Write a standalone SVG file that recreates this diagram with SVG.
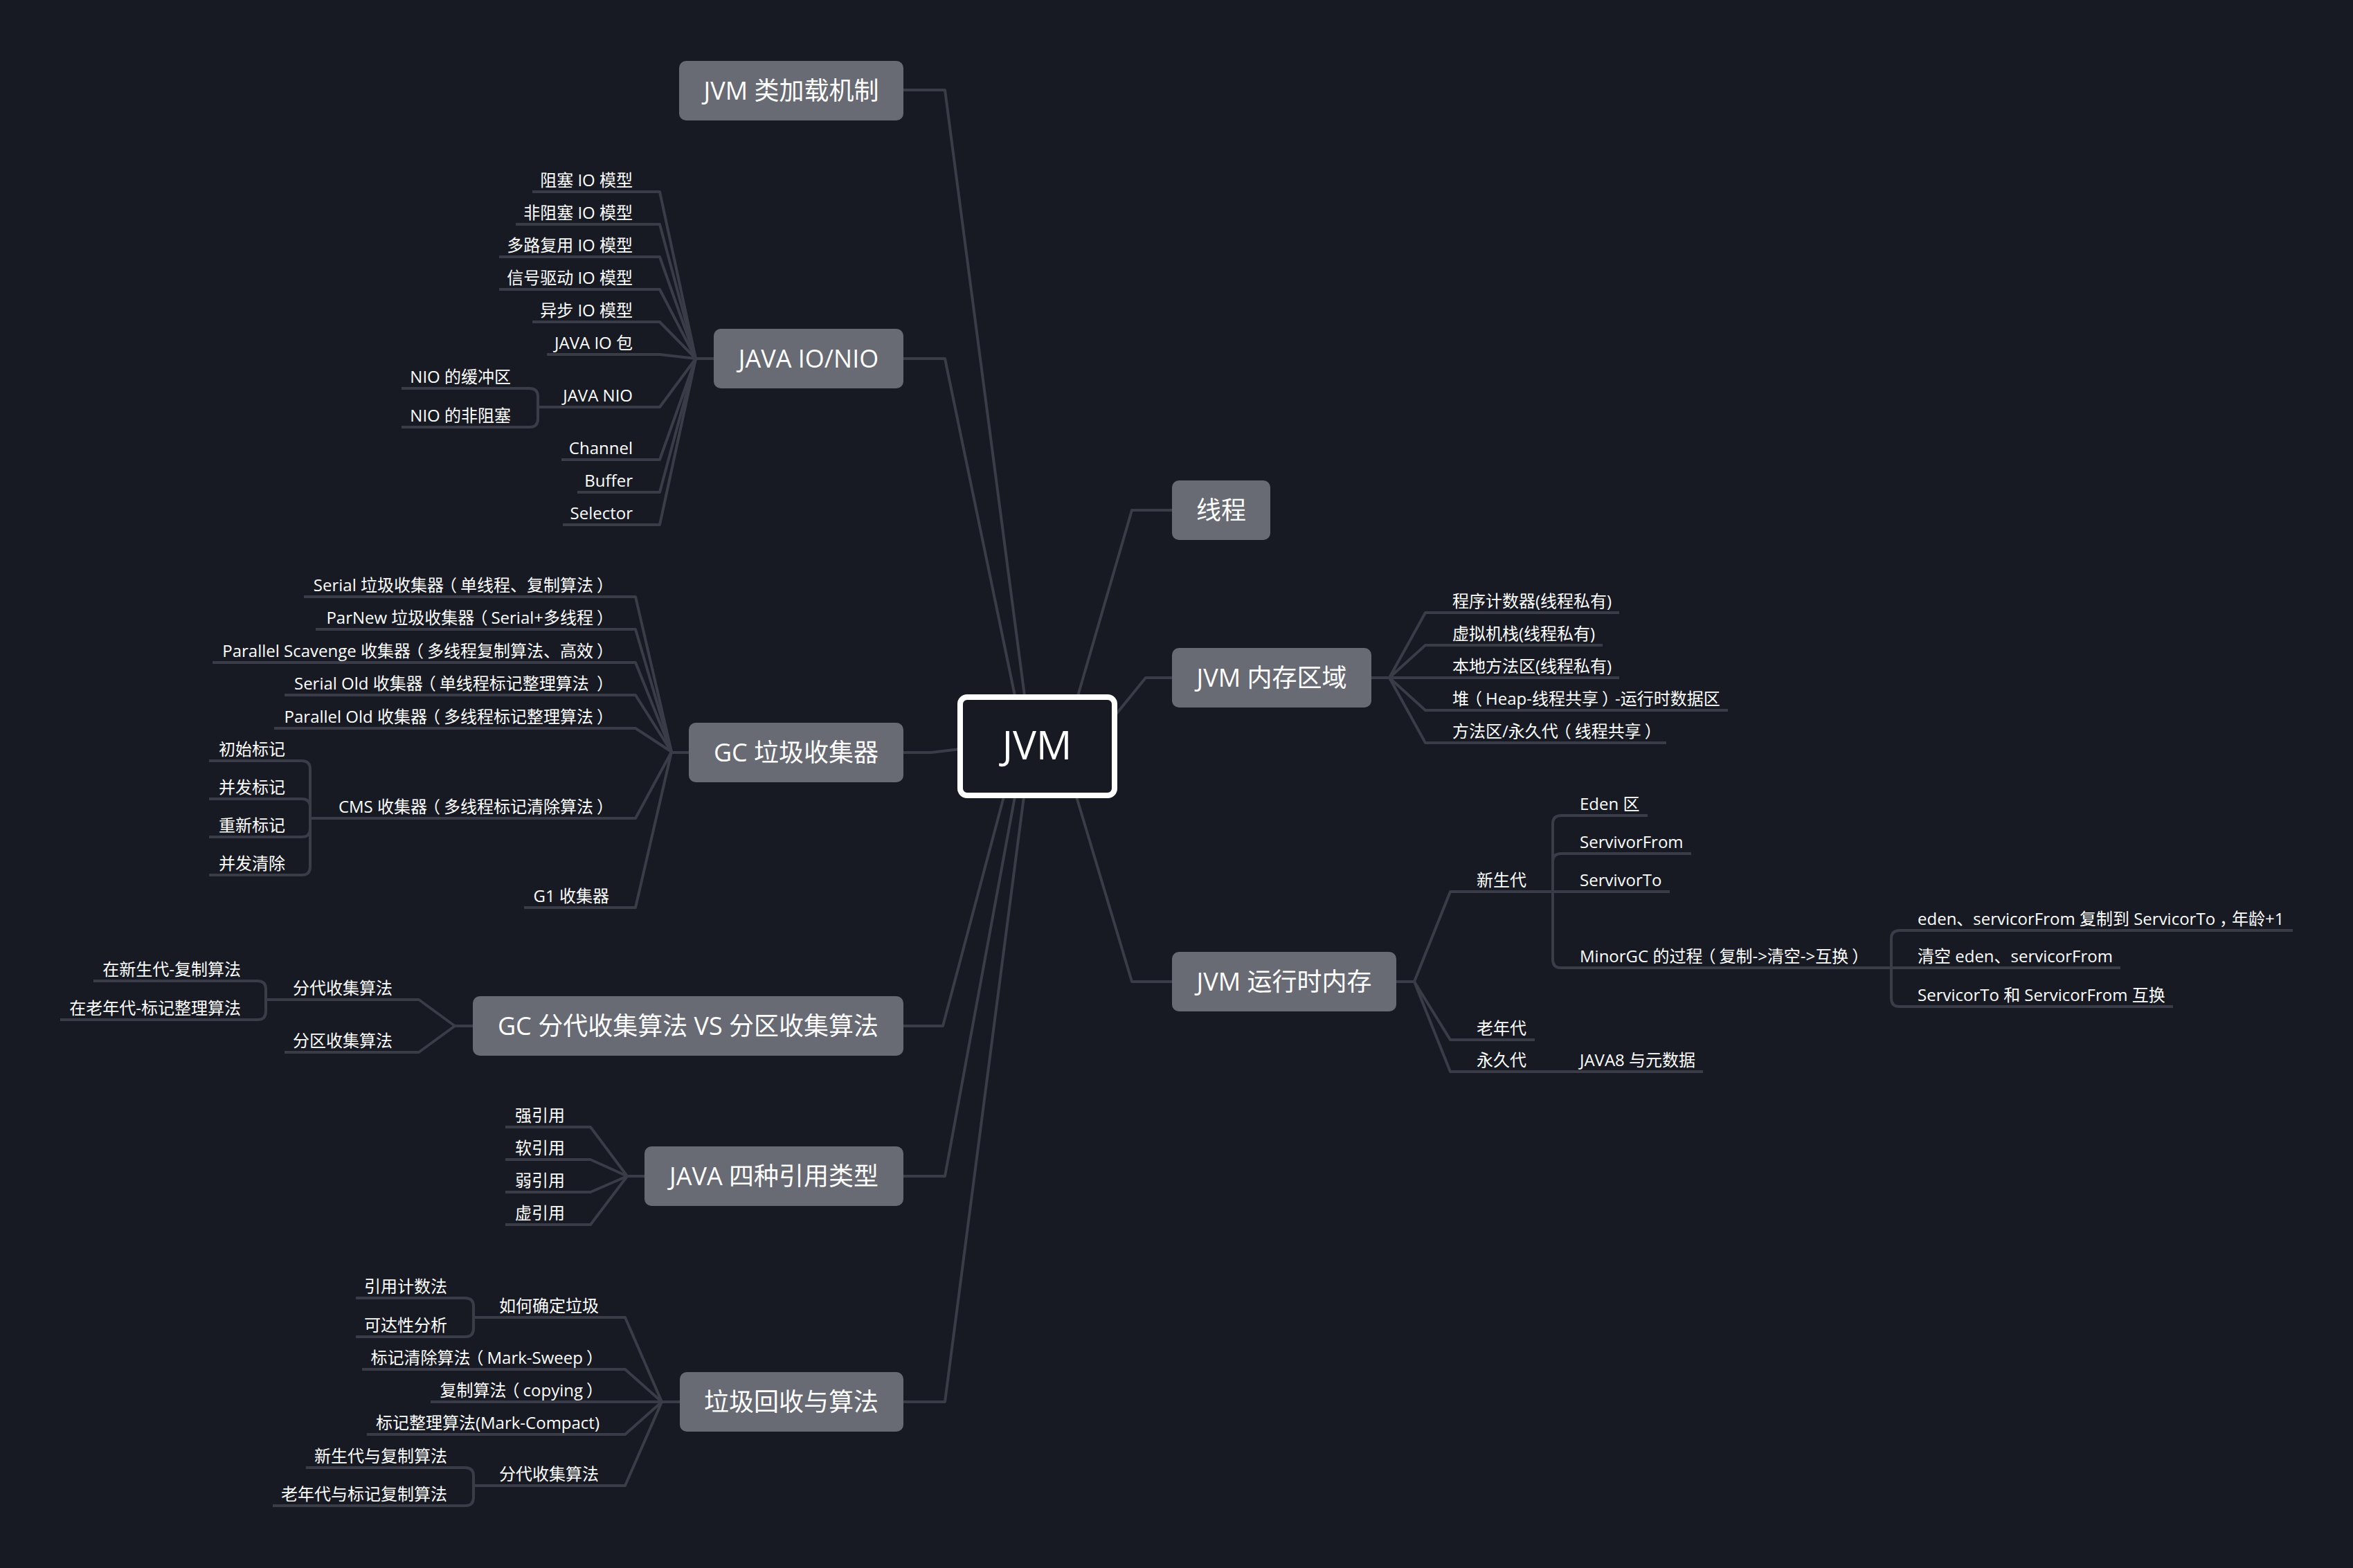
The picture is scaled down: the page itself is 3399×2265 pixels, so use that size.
<svg xmlns="http://www.w3.org/2000/svg" width="3399" height="2265" viewBox="0 0 3399 2265">
<style>
text{font-family:'Open Sans','Noto Sans CJK SC',sans-serif;fill:#ffffff}
.ln{fill:none;stroke:#3a3c48;stroke-width:4;stroke-linejoin:round}
.box{fill:#686a74}
.t1{font-size:36px;text-anchor:middle}
.t2{font-size:24px}
.e{text-anchor:end}
</style>
<rect width="3399" height="2265" fill="#171923"/>
<g id="connectors" class="ln">
<path d="M1305,130 H1365 L1480,1005"/>
<path d="M1305,518 H1365 L1466,1005"/>
<path d="M1305,1087 H1345 L1387,1082"/>
<path d="M1305,1482 H1362 L1450,1151"/>
<path d="M1305,1699 H1365 L1466,1151"/>
<path d="M1305,2025 H1365 L1479,1151"/>
<path d="M1693,737 H1635 L1557,1005"/>
<path d="M1693,979 H1655 L1612,1032"/>
<path d="M1693,1418 H1635 L1555,1151"/>
<path d="M1031,518 H1005"/>
<path d="M769,277 H953 L1005,518"/>
<path d="M745,324 H953 L1005,518"/>
<path d="M721,371 H953 L1005,518"/>
<path d="M721,418 H953 L1005,518"/>
<path d="M769,465 H953 L1005,518"/>
<path d="M790,512 H953 L1005,518"/>
<path d="M777,588 H953 L1005,518"/>
<path d="M811,664 H953 L1005,518"/>
<path d="M834,711 H953 L1005,518"/>
<path d="M813,758 H953 L1005,518"/>
<path d="M580,561 H765 Q777,561 777,573 V605 Q777,617 765,617 H580"/>
<path d="M995,1087 H970"/>
<path d="M439,862 H918 L970,1086"/>
<path d="M456,909 H918 L970,1086"/>
<path d="M307,957 H918 L970,1086"/>
<path d="M411,1004 H918 L970,1086"/>
<path d="M396,1052 H918 L970,1086"/>
<path d="M448,1182 H918 L970,1086"/>
<path d="M757,1311 H918 L970,1086"/>
<path d="M302,1099 H436 Q448,1099 448,1111 V1182"/>
<path d="M302,1154 H436 Q448,1154 448,1166 V1182"/>
<path d="M302,1209 H436 Q448,1209 448,1197 V1182"/>
<path d="M302,1264 H436 Q448,1264 448,1252 V1182"/>
<path d="M683,1482 H657"/>
<path d="M384,1444 H605 L657,1482"/>
<path d="M411,1520 H605 L657,1482"/>
<path d="M135,1417 H372 Q384,1417 384,1429 V1444"/>
<path d="M87,1473 H372 Q384,1473 384,1461 V1444"/>
<path d="M931,1699 H906"/>
<path d="M730,1628 H853 L906,1699"/>
<path d="M730,1675 H853 L906,1699"/>
<path d="M730,1722 H853 L906,1699"/>
<path d="M730,1769 H853 L906,1699"/>
<path d="M982,2025 H956"/>
<path d="M684,1903 H903 L956,2025"/>
<path d="M523,1978 H903 L956,2025"/>
<path d="M622,2025 H956"/>
<path d="M530,2072 H903 L956,2025"/>
<path d="M684,2146 H903 L956,2025"/>
<path d="M514,1875 H672 Q684,1875 684,1887 V1903"/>
<path d="M514,1931 H672 Q684,1931 684,1919 V1903"/>
<path d="M442,2120 H672 Q684,2120 684,2132 V2146"/>
<path d="M394,2175 H672 Q684,2175 684,2163 V2146"/>
<path d="M1981,979 H2007"/>
<path d="M2007,979 L2059,885 H2339"/>
<path d="M2007,979 L2059,932 H2315"/>
<path d="M2007,979 H2339"/>
<path d="M2007,979 L2059,1026 H2496"/>
<path d="M2007,979 L2059,1073 H2407"/>
<path d="M2017,1418 H2043"/>
<path d="M2043,1418 L2095,1288 H2412"/>
<path d="M2043,1418 L2095,1502 H2217"/>
<path d="M2043,1418 L2095,1548 H2460"/>
<path d="M2380,1178 H2255 Q2243,1178 2243,1190 V1288"/>
<path d="M2443,1233 H2255 Q2243,1233 2243,1245 V1288"/>
<path d="M2243,1288 V1386 Q2243,1398 2255,1398 H2732"/>
<path d="M2732,1398 V1356 Q2732,1344 2744,1344 H3312"/>
<path d="M2732,1398 H3063"/>
<path d="M2732,1398 V1442 Q2732,1454 2744,1454 H3139"/>
</g>
<g id="jvm">
<rect x="1387" y="1007" width="223" height="142" rx="10" fill="#171923" stroke="#ffffff" stroke-width="8"/>
<text x="1498" y="1097" font-size="57" text-anchor="middle">JVM</text>
</g>
<g id="classload"><rect class="box" x="981" y="88" width="324" height="86" rx="10"/><text class="t1" x="1143" y="144">JVM 类加载机制</text></g>
<g id="io"><rect class="box" x="1031" y="475" width="274" height="86" rx="10"/><text class="t1" x="1168" y="531">JAVA IO/NIO</text></g>
<g id="gc"><rect class="box" x="995" y="1044" width="310" height="86" rx="10"/><text class="t1" x="1150" y="1100">GC 垃圾收集器</text></g>
<g id="gcalg"><rect class="box" x="683" y="1439" width="622" height="86" rx="10"/><text class="t1" x="994" y="1495">GC 分代收集算法 VS 分区收集算法</text></g>
<g id="ref"><rect class="box" x="931" y="1656" width="374" height="86" rx="10"/><text class="t1" x="1118" y="1712">JAVA 四种引用类型</text></g>
<g id="recycle"><rect class="box" x="982" y="1982" width="323" height="86" rx="10"/><text class="t1" x="1143" y="2038">垃圾回收与算法</text></g>
<g id="thread"><rect class="box" x="1693" y="694" width="142" height="86" rx="10"/><text class="t1" x="1764" y="750">线程</text></g>
<g id="memarea"><rect class="box" x="1693" y="936" width="288" height="86" rx="10"/><text class="t1" x="1837" y="992">JVM 内存区域</text></g>
<g id="runtime"><rect class="box" x="1693" y="1375" width="324" height="86" rx="10"/><text class="t1" x="1855" y="1431">JVM 运行时内存</text></g>
<g id="io-children" class="t2">
<text class="e" x="914" y="269">阻塞 IO 模型</text>
<text class="e" x="914" y="316">非阻塞 IO 模型</text>
<text class="e" x="914" y="363">多路复用 IO 模型</text>
<text class="e" x="914" y="410">信号驱动 IO 模型</text>
<text class="e" x="914" y="457">异步 IO 模型</text>
<text class="e" x="914" y="504">JAVA IO 包</text>
<text class="e" x="914" y="580">JAVA NIO</text>
<text class="e" x="738" y="553">NIO 的缓冲区</text>
<text class="e" x="738" y="609">NIO 的非阻塞</text>
<text class="e" x="914" y="656">Channel</text>
<text class="e" x="914" y="703">Buffer</text>
<text class="e" x="914" y="750">Selector</text>
</g>
<g id="gc-children" class="t2">
<text class="e" x="886" y="854">Serial 垃圾收集器<tspan dx="-5">（</tspan><tspan dx="5">单线程、复制算法</tspan><tspan dx="5">）</tspan></text>
<text class="e" x="886" y="901">ParNew 垃圾收集器<tspan dx="-5">（</tspan><tspan dx="5">Serial+多线程</tspan><tspan dx="5">）</tspan></text>
<text class="e" x="886" y="949">Parallel Scavenge 收集器<tspan dx="-5">（</tspan><tspan dx="5">多线程复制算法、高效</tspan><tspan dx="5">）</tspan></text>
<text class="e" x="886" y="996">Serial Old 收集器<tspan dx="-5">（</tspan><tspan dx="5">单线程标记整理算法 </tspan><tspan dx="5">）</tspan></text>
<text class="e" x="886" y="1044">Parallel Old 收集器<tspan dx="-5">（</tspan><tspan dx="5">多线程标记整理算法</tspan><tspan dx="5">）</tspan></text>
<text class="e" x="886" y="1174">CMS 收集器<tspan dx="-5">（</tspan><tspan dx="5">多线程标记清除算法</tspan><tspan dx="5">）</tspan></text>
<text class="e" x="880" y="1303">G1 收集器</text>
<text class="e" x="412" y="1091">初始标记</text>
<text class="e" x="412" y="1146">并发标记</text>
<text class="e" x="412" y="1201">重新标记</text>
<text class="e" x="412" y="1256">并发清除</text>
</g>
<g id="gcalg-children" class="t2">
<text class="e" x="567" y="1436">分代收集算法</text>
<text class="e" x="567" y="1512">分区收集算法</text>
<text class="e" x="348" y="1409">在新生代-复制算法</text>
<text class="e" x="348" y="1465">在老年代-标记整理算法</text>
</g>
<g id="ref-children" class="t2">
<text class="e" x="816" y="1620">强引用</text>
<text class="e" x="816" y="1667">软引用</text>
<text class="e" x="816" y="1714">弱引用</text>
<text class="e" x="816" y="1761">虚引用</text>
</g>
<g id="recycle-children" class="t2">
<text class="e" x="865" y="1895">如何确定垃圾</text>
<text class="e" x="646" y="1867">引用计数法</text>
<text class="e" x="646" y="1923">可达性分析</text>
<text class="e" x="871" y="1970">标记清除算法<tspan dx="-5">（</tspan><tspan dx="5">Mark-Sweep</tspan><tspan dx="5">）</tspan></text>
<text class="e" x="871" y="2017">复制算法<tspan dx="-5">（</tspan><tspan dx="5">copying</tspan><tspan dx="5">）</tspan></text>
<text class="e" x="866" y="2064">标记整理算法(Mark-Compact)</text>
<text class="e" x="865" y="2138">分代收集算法</text>
<text class="e" x="646" y="2112">新生代与复制算法</text>
<text class="e" x="646" y="2167">老年代与标记复制算法</text>
</g>
<g id="memarea-children" class="t2">
<text x="2098" y="877">程序计数器(线程私有)</text>
<text x="2098" y="924">虚拟机栈(线程私有)</text>
<text x="2098" y="971">本地方法区(线程私有)</text>
<text x="2098" y="1018">堆<tspan dx="-5">（</tspan><tspan dx="5">Heap-线程共享</tspan><tspan dx="5">）</tspan><tspan dx="-5">-运行时数据区</tspan></text>
<text x="2098" y="1065">方法区/永久代<tspan dx="-5">（</tspan><tspan dx="5">线程共享</tspan><tspan dx="5">）</tspan></text>
</g>
<g id="runtime-children" class="t2">
<text x="2133" y="1280">新生代</text>
<text x="2133" y="1494">老年代</text>
<text x="2133" y="1540">永久代</text>
<text x="2282" y="1540">JAVA8 与元数据</text>
<text x="2282" y="1170">Eden 区</text>
<text x="2282" y="1225">ServivorFrom</text>
<text x="2282" y="1280">ServivorTo</text>
<text x="2282" y="1390">MinorGC 的过程<tspan dx="-5">（</tspan><tspan dx="5">复制-&gt;清空-&gt;互换</tspan><tspan dx="5">）</tspan></text>
<text x="2770" y="1336">eden、servicorFrom 复制到 ServicorTo<tspan dx="6">，</tspan><tspan dx="-6">年龄+1</tspan></text>
<text x="2770" y="1390">清空 eden、servicorFrom</text>
<text x="2770" y="1446">ServicorTo 和 ServicorFrom 互换</text>
</g>
</svg>
